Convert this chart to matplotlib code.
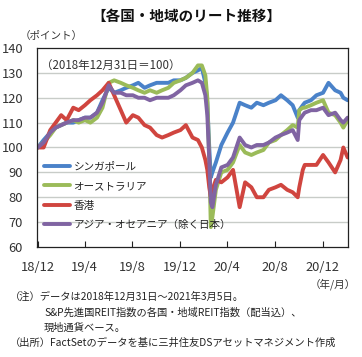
import matplotlib
matplotlib.use("Agg")
import matplotlib.pyplot as plt
import numpy as np
import pandas as pd

plt.rcParams['font.family'] = ['Noto Sans CJK JP', 'DejaVu Sans']

dates = ["2018-12-31","2019-01-15","2019-02-01","2019-02-15","2019-03-01","2019-03-15",
         "2019-04-01","2019-04-15","2019-05-01","2019-05-15","2019-06-01","2019-06-15",
         "2019-07-01","2019-07-15","2019-08-01","2019-08-15","2019-09-01","2019-09-15",
         "2019-10-01","2019-10-15","2019-11-01","2019-11-15","2019-12-01","2019-12-15",
         "2020-01-01","2020-01-15","2020-02-01","2020-02-15","2020-02-25","2020-03-05",
         "2020-03-10","2020-03-15","2020-03-19","2020-03-23","2020-04-01","2020-04-15",
         "2020-05-01","2020-05-15","2020-06-01","2020-06-15","2020-07-01","2020-07-15",
         "2020-08-01","2020-08-15","2020-09-01","2020-09-15","2020-10-01","2020-10-15",
         "2020-10-28","2020-11-01","2020-11-10","2020-11-15","2020-12-01","2020-12-15",
         "2021-01-01","2021-01-15","2021-02-01","2021-02-15","2021-02-22","2021-03-05"]

singapore = [100,103,106,108,109,110,110,111,112,112,114,119,124,122,123,124,125,126,124,125,126,126,126,127,
             127,128,130,131,132,126,118,100,88,90,94,101,106,110,118,117,116,118,117,118,119,121,119,117,112,115,117,118,119,121,
             122,126,123,122,120,119]
australia = [100,102,105,108,109,110,111,110,111,110,112,116,126,127,126,125,124,123,122,123,122,123,124,126,
             127,128,130,133,133,129,120,95,68,72,83,90,91,94,101,98,97,98,99,102,103,105,107,109,108,115,116,116,117,118,
             119,114,113,110,108,111]
hongkong = [100,100,107,110,113,111,116,115,117,119,121,123,126,121,115,110,113,112,109,108,105,104,105,106,
            107,109,104,103,100,95,91,84,80,83,87,86,88,91,76,86,84,80,80,83,84,85,83,82,80,84,91,93,93,93,
            97,94,90,95,100,96]
asia_oceania = [100,102,106,108,109,110,111,111,112,112,114,118,125,122,122,121,121,120,120,119,120,120,120,121,
                123,125,126,127,126,121,113,95,78,76,85,92,93,96,104,101,100,101,101,102,104,105,106,107,103,111,113,114,115,115,
                116,113,114,111,110,112]

series_names = ["シンガポール", "オーストラリア", "香港", "アジア・オセアニア（除く日本）"]
series_values = [singapore, australia, hongkong, asia_oceania]
series_colors = ["#4a82c9", "#9bbb59", "#d0453f", "#8064a2"]

tick_dates = ["2018-12-31","2019-04-30","2019-08-31","2019-12-31","2020-04-30","2020-08-31","2020-12-31"]
tick_labels = ["18/12","19/4","19/8","19/12","20/4","20/8","20/12"]
y_ticks = [60, 70, 80, 90, 100, 110, 120, 130, 140]

x = pd.to_datetime(dates)

fig = plt.figure(figsize=(3.62, 3.57), dpi=100)
ax = fig.add_axes([37/362, 1-247/357, (348-37)/362, (247-48)/357])

for ys in y_ticks[1:-1]:
    ax.axhline(ys, color="#c8ccc8", lw=1.0, zorder=0)

for name, vals, col in zip(series_names, series_values, series_colors):
    ax.plot(x, vals, color=col, lw=2.8, label=name, solid_joinstyle='round', solid_capstyle='round')

ax.set_ylim(60, 140)
ax.set_xlim(pd.Timestamp("2018-12-29"), pd.Timestamp("2021-03-06"))
ax.set_yticks(y_ticks)
ax.set_yticklabels([str(v) for v in y_ticks])
ax.set_xticks(pd.to_datetime(tick_dates))
ax.set_xticklabels(tick_labels)
ax.tick_params(axis='y', length=0, pad=10, labelsize=9.3, colors="#333333")
ax.tick_params(axis='x', direction='in', length=4, pad=10, labelsize=9.3, colors="#333333", width=0.8)
ax.tick_params(axis='x', color="#222222")
for s in ax.spines.values():
    s.set_color("#222222")
    s.set_linewidth(0.9)

leg = ax.legend(loc='upper left', bbox_to_anchor=(0.022, 0.43), frameon=False,
                fontsize=7.6, handlelength=2.5, handletextpad=0.3, labelspacing=0.9,
                borderpad=0, borderaxespad=0)
for t in leg.get_texts():
    t.set_color("#222222")

ax.text(0.012, 0.915, "（2018年12月31日＝100）", transform=ax.transAxes,
        fontsize=8.3, color="#333333", va='center', ha='left')

fig.text(186/362, 1-16/357, "【各国・地域のリート推移】", ha='center', va='center',
         fontsize=10.5, fontweight='bold', color="#111111")
fig.text(20/362, 1-36/357, "（ポイント）", ha='left', va='center', fontsize=7.6, color="#333333")
fig.text(356/362, 1-284/357, "（年/月）", ha='right', va='center', fontsize=7.6, color="#333333")

notes = [
    (10, 297, "（注）データは2018年12月31日～2021年3月5日。"),
    (44, 313, "S&P先進国REIT指数の各国・地域REIT指数（配当込）、"),
    (44, 328, "現地通貨ベース。"),
    (10, 343, "（出所）FactSetのデータを基に三井住友DSアセットマネジメント作成"),
]
for nx, ny, txt in notes:
    fig.text(nx/362, 1-ny/357, txt, ha='left', va='center', fontsize=7.4, color="#222222")

fig.savefig("out.png", dpi=100)
